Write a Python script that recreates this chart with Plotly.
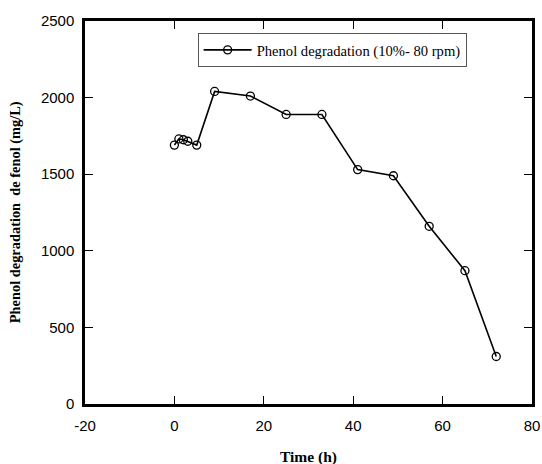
import plotly.graph_objects as go

time_h = [0, 1, 2, 3, 5, 9, 17, 25, 33, 41, 49, 57, 65, 72]
phenol = [1690, 1730, 1725, 1715, 1690, 2040, 2010, 1890, 1890, 1530, 1490, 1160, 870, 310]
series_name = "Phenol degradation (10%- 80 rpm)"
x_ticks = [-20, 0, 20, 40, 60, 80]
x_tick_labels = ["-20", "0", "20", "40", "60", "80"]
y_ticks = [0, 500, 1000, 1500, 2000, 2500]
y_tick_labels = ["0", "500", "1000", "1500", "2000", "2500"]

fig = go.Figure()
fig.add_trace(go.Scatter(
    x=time_h, y=phenol, mode="lines+markers", name=series_name,
    line=dict(color="black", width=1.6),
    marker=dict(symbol="circle-open", size=8, color="black", line=dict(width=1.3)),
))

axis_common = dict(
    showline=True, linecolor="black", linewidth=2.5, mirror="ticks",
    ticks="inside", ticklen=8, tickwidth=1.2, tickcolor="black",
    showgrid=False, zeroline=False, automargin=False,
    tickfont=dict(family="Liberation Sans, Arial", size=15, color="black"),
)

serif = "Liberation Serif, Times New Roman"
fig.update_layout(
    width=542, height=464,
    margin=dict(l=85, r=10, t=21, b=60),
    paper_bgcolor="white", plot_bgcolor="white",
    xaxis=dict(range=[-20, 80], tickvals=x_ticks, ticktext=x_tick_labels,
               ticklabelstandoff=6, **axis_common),
    yaxis=dict(range=[0, 2500], tickvals=y_ticks, ticktext=y_tick_labels,
               ticklabelstandoff=5, **axis_common),
    legend=dict(x=0.252, y=0.969, xanchor="left", yanchor="top",
                bordercolor="#555", borderwidth=1, bgcolor="white", itemwidth=48,
                font=dict(family=serif, size=14.6, color="black")),
    showlegend=True,
    annotations=[
        dict(text="<b>Time (h)</b>", xref="paper", yref="paper", x=0.5, y=-0.138,
             xanchor="center", yanchor="middle", showarrow=False,
             font=dict(family=serif, size=15.5, color="black")),
        dict(text="<b>Phenol degradation  de fenol (mg/L)</b>", xref="paper", yref="paper",
             x=-0.155, y=0.5, xanchor="center", yanchor="middle", textangle=-90,
             showarrow=False, font=dict(family=serif, size=14.4, color="black")),
    ],
)

fig.write_html("out.html", config={"displayModeBar": False},
               post_script="document.body.style.margin='0px';document.body.style.overflow='hidden';")
